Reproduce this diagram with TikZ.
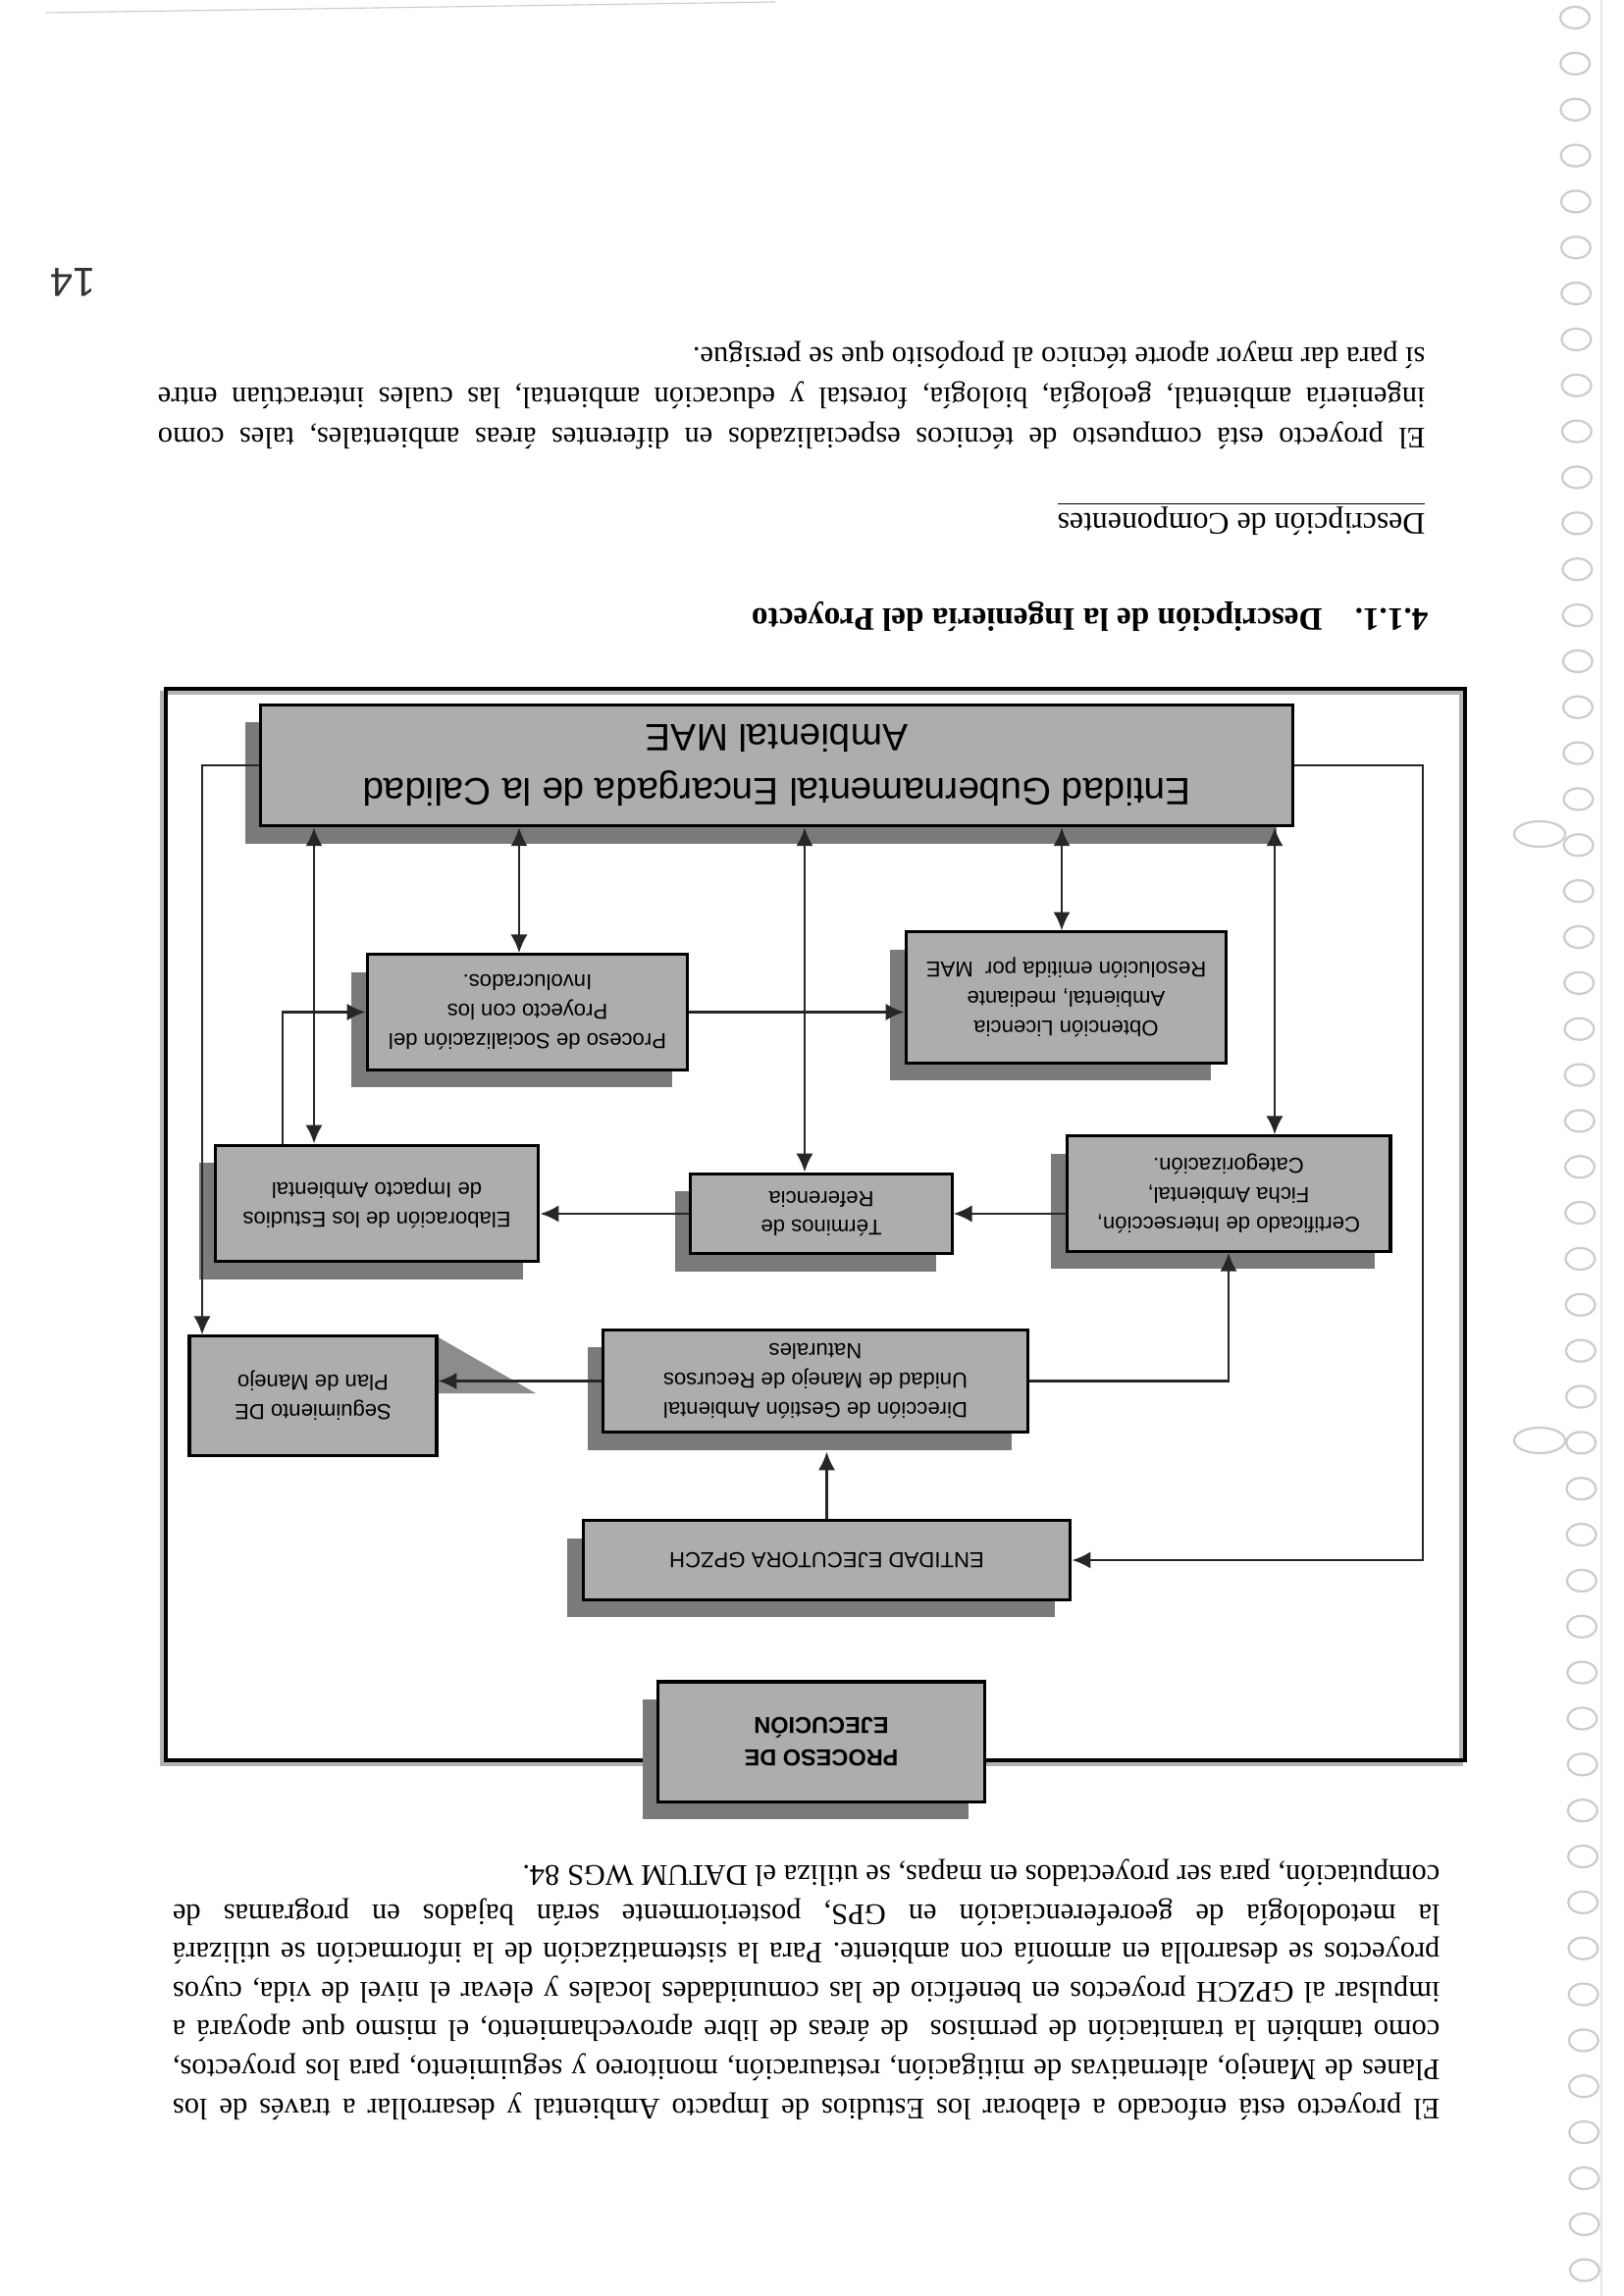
\documentclass[tikz,border=0pt]{standalone}
\usepackage{fontspec}
\setmainfont{Liberation Serif}
\setsansfont{Liberation Sans}
\usetikzlibrary{arrows.meta,shadows}
\frenchspacing

\newcommand{\fullline}[1]{\makebox[164mm][s]{#1}}

\begin{document}
\begin{tikzpicture}[x=0.127mm, y=-0.127mm,
    >={Latex[length=2.4mm, width=2.2mm]},
    panel/.style={draw=black, line width=1.1pt, fill=black!32, align=center,
      font=\sffamily\fontsize{8}{10.8}\selectfont, inner sep=2pt},
    box/.style={panel, drop shadow={shadow xshift=-2mm, shadow yshift=-2.3mm, opacity=1, fill=black!52}},
    link/.style={draw=black!85, line width=1pt},
    hole/.style={draw=gray!40, line width=0.8pt, fill=white}]
    \useasboundingbox (0,0) rectangle (1654,2340);
    \fill[white] (0,0) rectangle (1654,2340);

    \begin{scope}[rotate around={180:(827,1170)}, transform shape]
    \draw[gray!20] (22,0) -- (22,2340);
    \draw[gray!40] (1607,2327) -- (864,2338);
    \foreach \i in {0,...,49}
        \draw[hole] ({49-0.2*\i},{2322-46.85*\i}) ellipse [x radius=15, y radius=11];
    \draw[hole] (85,1490) ellipse [x radius=26, y radius=13];
    \draw[hole] (85,872) ellipse [x radius=26, y radius=13];

    \node[anchor=north west, inner sep=0pt, align=left, font=\fontsize{11}{14.3}\selectfont] (intro) at (186,179) {%
        \fullline{El proyecto está enfocado a elaborar los Estudios de Impacto Ambiental y desarrollar a través de los}\\
        \fullline{Planes de Manejo, alternativas de mitigación, restauración, monitoreo y seguimiento, para los proyectos,}\\
        \fullline{como también la tramitación de permisos\ \ de áreas de libre aprovechamiento, el mismo que apoyará a}\\
        \fullline{impulsar al GPZCH proyectos en beneficio de las comunidades locales y elevar el nivel de vida, cuyos}\\
        \fullline{proyectos se desarrolla en armonía con ambiente. Para la sistematización de la información se utilizará}\\
        \fullline{la metodología de georeferenciación en GPS, posteriormente serán bajados en programas de}\\
        computación, para ser proyectados en mapas, se utiliza el DATUM WGS 84.};

    \draw[gray!60, line width=1.4pt] (165,542) rectangle (1489,1634);
    \draw[line width=1.4pt] (161,546) rectangle (1485,1638);

    \fill[black!45] (1209,978) -- (1108,920) -- (1209,920) -- cycle;

    \node[box, font=\sffamily\bfseries\fontsize{8.5}{12}\selectfont, minimum width=42.2mm, minimum height=15.5mm] (proc) at (817,565) {PROCESO DE\\EJECUCIÓN};
    \node[box, minimum width=63.1mm, minimum height=10.2mm] (gpzch) at (811.5,750) {ENTIDAD EJECUTORA GPZCH};
    \node[box, minimum width=54.9mm, minimum height=13.3mm] (dga) at (823,932.5) {Dirección de Gestión Ambiental\\Unidad de Manejo de Recursos\\Naturales};
    \node[panel, minimum width=32mm, minimum height=15.4mm] (seg) at (1335,917.5) {Seguimiento DE\\Plan de Manejo};
    \node[box, minimum width=41.9mm, minimum height=14.9mm] (cert) at (402,1123.5) {Certificado de Intersección,\\Ficha Ambiental,\\Categorización.};
    \node[box, minimum width=33.8mm, minimum height=10.4mm] (tdr) at (817,1103) {Términos de\\Referencia};
    \node[box, minimum width=41.9mm, minimum height=15.1mm] (eia) at (1270,1113.5) {Elaboración de los Estudios\\de Impacto Ambiental};
    \node[box, minimum width=41.5mm, minimum height=16.9mm] (lic) at (567.5,1323.5) {Obtención Licencia\\Ambiental, mediante\\Resolución emitida por\ \ MAE};
    \node[box, minimum width=41.5mm, minimum height=14.9mm] (soc) at (1116.5,1308.5) {Proceso de Socialización del\\Proyecto con los\\Involucrados.};
    \node[box, font=\sffamily\fontsize{14}{20}\selectfont, minimum width=133.5mm, minimum height=15.7mm] (gob) at (862.5,1560) {Entidad Gubernamental Encargada de la Calidad\\Ambiental MAE};

    \draw[link, ->, shorten >=2.3mm] (gpzch.south) -- (gpzch.south |- dga.north);
    \draw[link, ->] (dga.east) -- (dga.east -| seg.west);
    \draw[link, ->] (dga.west) -| (cert.north);
    \draw[link, ->] (cert.east |- tdr.west) -- (tdr.west);
    \draw[link, ->] (tdr.east) -- (tdr.east -| eia.west);
    \draw[link, ->] (1366,0 |- eia.south) |- (soc.east);
    \draw[link, ->] (soc.west) -- (soc.west -| lic.east);
    \foreach \b/\xx in {eia/1334, soc/1125, tdr/834, lic/572, cert/355}
        \draw[link, <->] (\xx,0 |- \b.south) -- (\xx,0 |- gob.north);
    \draw[link, ->] (gob.east) -| (1448,0 |- seg.south);
    \draw[link, ->] (gob.west) -| (204,0 |- gpzch.west) -- (gpzch.west);

    \node[anchor=base west, inner sep=0pt, font=\bfseries\fontsize{12}{14}\selectfont] (sec) at (198,1719) {4.1.1.\hspace{12pt}Descripción de la Ingeniería del Proyecto};
    \node[anchor=base west, inner sep=0pt, font=\fontsize{11.5}{14}\selectfont] (sub) at (201,1816) {\underline{Descripción de Componentes}};
    \node[anchor=north west, inner sep=0pt, align=left, font=\fontsize{11}{14.8}\selectfont] (team) at (201,1882) {%
        \fullline{El proyecto está compuesto de técnicos especializados en diferentes áreas ambientales, tales como}\\
        \fullline{ingeniería ambiental, geología, biología, forestal y educación ambiental, las cuales interactúan entre}\\
        sí para dar mayor aporte técnico al propósito que se persigue.};

    \node[font=\sffamily\fontsize{15}{18}\selectfont, text=black!80] (pagenum) at (1580,2052) {14};
    \end{scope}
\end{tikzpicture}
\end{document}
